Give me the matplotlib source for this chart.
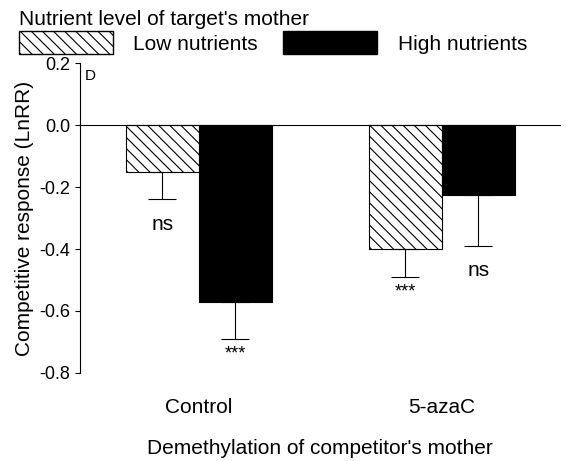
import numpy as np
import matplotlib.pyplot as plt
from matplotlib.patches import Patch

# data
groups = ['Control', '5-azaC']
low_vals = [-0.15, -0.40]
low_err = [0.09, 0.09]
high_vals = [-0.57, -0.225]
high_err = [0.12, 0.165]
low_marks = ['ns', '***']
high_marks = ['***', 'ns']

plt.rcParams['font.family'] = 'Liberation Sans'
plt.rcParams['hatch.linewidth'] = 0.8

fig = plt.figure(figsize=(5.66, 4.61), dpi=100)
ax = fig.add_axes([0.141, 0.191, 0.85, 0.672])

x = np.arange(len(groups))
w = 0.3
ax.bar(x - w/2, low_vals, w, color='white', edgecolor='black', hatch='\\\\\\', linewidth=0.8,
       yerr=[low_err, [0, 0]], error_kw=dict(capsize=10, elinewidth=0.8, capthick=0.8))
ax.bar(x + w/2, high_vals, w, color='black', edgecolor='black', linewidth=0.8,
       yerr=[high_err, [0, 0]], error_kw=dict(capsize=10, elinewidth=0.8, capthick=0.8))

for i in range(len(groups)):
    for xx, v, e, m in [(x[i] - w/2, low_vals[i], low_err[i], low_marks[i]),
                        (x[i] + w/2, high_vals[i], high_err[i], high_marks[i])]:
        off = 0.08 if m == 'ns' else 0.05
        ax.text(xx, v - e - off, m, ha='center', va='center', fontsize=15 if m == 'ns' else 13)

ax.axhline(0, color='black', linewidth=0.8)
ax.set_xlim(-0.49, 1.49)
ax.set_ylim(-0.8, 0.2)
ax.set_yticks([0.2, 0.0, -0.2, -0.4, -0.6, -0.8])
ax.set_yticklabels(['0.2', '0.0', '-0.2', '-0.4', '-0.6', '-0.8'], fontsize=13)
ax.set_xticks(x)
ax.set_xticklabels(groups, fontsize=15)
ax.tick_params(axis='x', length=0, pad=18)
for s in ['top', 'right', 'bottom']:
    ax.spines[s].set_visible(False)
ax.set_ylabel('Competitive response (LnRR)', fontsize=15, labelpad=4)
ax.set_xlabel("Demethylation of competitor's mother", fontsize=15, labelpad=16)
ax.text(0.01, 0.98, 'D', transform=ax.transAxes, ha='left', va='top', fontsize=11)

handles = [Patch(facecolor='white', edgecolor='black', hatch='\\\\\\', label='Low nutrients'),
           Patch(facecolor='black', edgecolor='black', label='High nutrients')]
leg = fig.legend(handles=handles, ncol=2, loc='upper left', bbox_to_anchor=(0.0, 1.02),
                 title="Nutrient level of target's mother", title_fontsize=15, fontsize=15,
                 frameon=False, handlelength=4.5, handleheight=1.3, columnspacing=1.2,
                 handletextpad=1.0, labelspacing=0.2)
leg._legend_box.align = 'left'
leg._legend_box.sep = 2

fig.savefig('out.png', dpi=100)
